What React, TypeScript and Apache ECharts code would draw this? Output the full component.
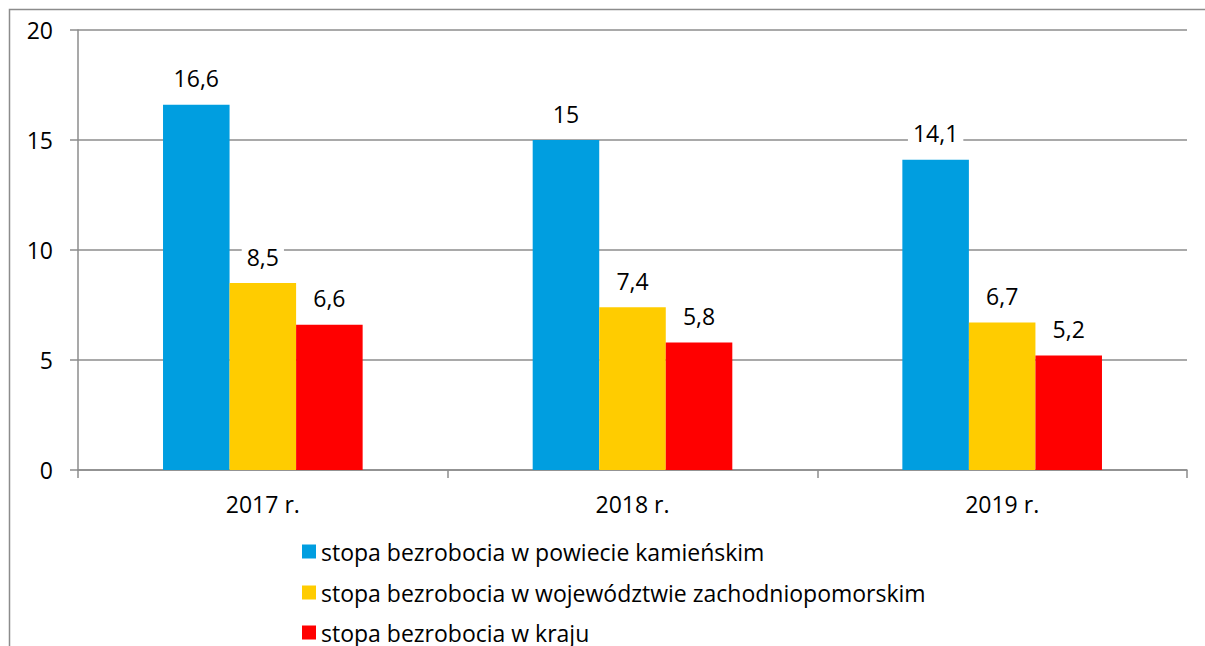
import React, { useEffect, useRef } from "react";
import * as echarts from "echarts";

const categories = ["2017 r.", "2018 r.", "2019 r."];
const seriesNames = [
  "stopa bezrobocia w powiecie kamieńskim",
  "stopa bezrobocia w województwie zachodniopomorskim",
  "stopa bezrobocia w kraju",
];
const powiat = [16.6, 15, 14.1];
const wojewodztwo = [8.5, 7.4, 6.7];
const kraj = [6.6, 5.8, 5.2];
const colors = ["#009EE0", "#FFCC00", "#FF0000"];

const FONT = "Open Sans";
const FS = 23;

export default function App() {
  const ref = useRef<HTMLDivElement>(null);
  useEffect(() => {
    if (!ref.current) return;
    const chart = echarts.init(ref.current, undefined, { renderer: "svg" });
    const label = {
      show: true,
      position: "top",
      distance: 15,
      fontFamily: FONT,
      fontSize: FS,
      color: "#000",
      backgroundColor: "#fff",
      padding: [0, 5],
      formatter: (p: any) => String(p.value).replace(".", ","),
    };
    const mk = (name: string, data: number[], color: string) => ({
      name,
      type: "bar",
      data,
      barGap: "0%",
      barCategoryGap: "46%",
      itemStyle: { color },
      label,
    });
    const legendTops = [540, 581, 621];
    const legends = seriesNames.map((n, i) => ({
      orient: "vertical",
      left: 302,
      top: legendTops[i],
      padding: 0,
      itemWidth: 14,
      itemHeight: 14,
      itemGap: 0,
      icon: "rect",
      textStyle: { fontFamily: FONT, fontSize: FS, color: "#000", lineHeight: 21 },
      data: [n],
    }));
    chart.setOption({
      animation: false,
      graphic: [
        {
          type: "rect",
          shape: { x: 9.5, y: 9.5, width: 1220, height: 660 },
          style: { fill: "none", stroke: "#8c8c8c", lineWidth: 1.5 },
          silent: true,
        },
      ],
      grid: { left: 78, top: 30, right: 18, bottom: 176 },
      legend: legends,
      xAxis: {
        type: "category",
        data: categories,
        axisLine: { lineStyle: { color: "#8c8c8c", width: 1.5 } },
        axisTick: { show: true, length: 8, lineStyle: { color: "#8c8c8c", width: 1.5 } },
        axisLabel: { fontFamily: FONT, fontSize: FS, color: "#000", margin: 22 },
      },
      yAxis: {
        type: "value",
        min: 0,
        max: 20,
        interval: 5,
        axisLine: { show: true, lineStyle: { color: "#8c8c8c", width: 1.5 } },
        axisTick: { show: true, length: 8, lineStyle: { color: "#8c8c8c", width: 1.5 } },
        axisLabel: { fontFamily: FONT, fontSize: FS, color: "#000", margin: 25 },
        splitLine: { lineStyle: { color: "#8c8c8c", width: 1.5 } },
      },
      series: [
        mk(seriesNames[0], powiat, colors[0]),
        mk(seriesNames[1], wojewodztwo, colors[1]),
        mk(seriesNames[2], kraj, colors[2]),
      ],
    });
    return () => chart.dispose();
  }, []);
  return (
    <div
      ref={ref}
      style={{ position: "absolute", left: 0, top: 0, width: 1205, height: 646, background: "#fff" }}
    />
  );
}
